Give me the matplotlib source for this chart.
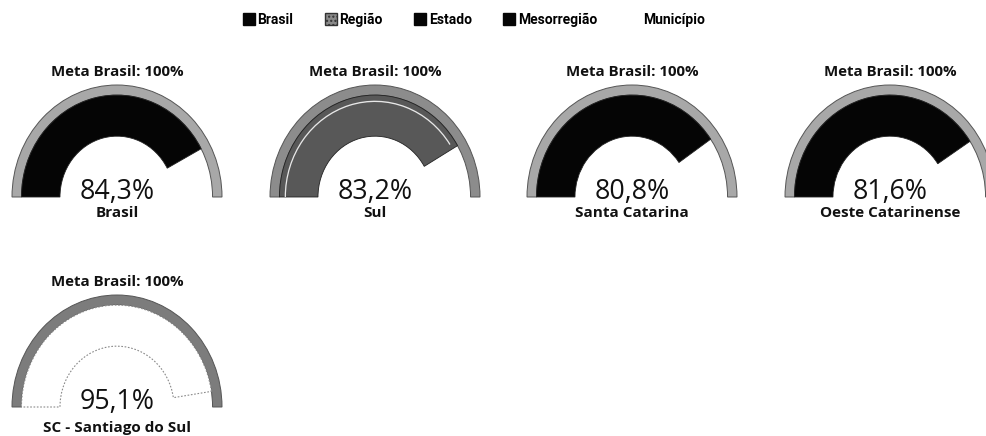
import matplotlib
matplotlib.use("Agg")
import matplotlib.pyplot as plt
from matplotlib.patches import Wedge, Patch

# ---- data ----
names = ["Brasil", "Sul", "Santa Catarina", "Oeste Catarinense", "SC - Santiago do Sul"]
values = [84.3, 83.2, 80.8, 81.6, 95.1]
kinds = ["Brasil", "Região", "Estado", "Mesorregião", "Município"]
meta_label = "Meta Brasil: 100%"
meta_value = 100.0
legend_labels = ["Brasil", "Região", "Estado", "Mesorregião", "Município"]

# ---- styles ----
fill_colors = {"Brasil": "#050505", "Região": "#585858", "Estado": "#050505",
               "Mesorregião": "#050505", "Município": "#ffffff"}
band_colors = {"Brasil": "#a8a8a8", "Região": "#8c8c8c", "Estado": "#a8a8a8",
               "Mesorregião": "#a8a8a8", "Município": "#7c7c7c"}

W, H = 986, 436
fig = plt.figure(figsize=(W / 100, H / 100), dpi=100)
fig.patch.set_facecolor("white")

centers = [(117, 197), (375, 197), (632, 197), (890, 197), (117, 407)]
RX, RY = 105, 112
R_IN = 0.543
R_BAND = 0.91

for i, (nm, val, kind) in enumerate(zip(names, values, kinds)):
    cx, cy = centers[i]
    ax = fig.add_axes([(cx - 1.25 * RX) / W, 1 - (cy + 0.35 * RY) / H,
                       2.5 * RX / W, 1.7 * RY / H])
    ax.set_xlim(-1.25, 1.25)
    ax.set_ylim(-0.35, 1.35)
    ax.axis("off")
    # background band (full meta)
    ax.add_patch(Wedge((0, 0), 1.0, 180 - 180 * meta_value / meta_value, 180,
                       width=1.0 - R_BAND, facecolor=band_colors[kind],
                       edgecolor="#555555", linewidth=0.7))
    theta = 180 - 180 * val / meta_value
    if kind == "Município":
        ax.add_patch(Wedge((0, 0), R_BAND, theta, 180, width=R_BAND - R_IN,
                           facecolor="white", edgecolor="#8a8a8a",
                           linewidth=0.8, linestyle=(0, (1.5, 1.5))))
    else:
        ax.add_patch(Wedge((0, 0), R_BAND, theta, 180, width=R_BAND - R_IN,
                           facecolor=fill_colors[kind], edgecolor="#222222",
                           linewidth=0.6))
        if kind == "Região":
            ax.add_patch(Wedge((0, 0), 0.86, theta + 3, 180, width=0.012,
                               facecolor="#e8e8e8", edgecolor="none"))
    row2 = cy > 300
    ax.text(0, 125 / RY, meta_label, ha="center", va="center",
            fontsize=10.8, fontweight="bold", family="Open Sans", color="#111111")
    ax.text(0, 5 / RY, f"{val:.1f}".replace(".", ",") + "%", ha="center",
            va="center", fontsize=19.3, family="Open Sans", color="#111111")
    ax.text(0, (-21 if row2 else -16) / RY, nm, ha="center", va="center",
            fontsize=11, fontweight="bold", family="Open Sans", color="#111111")

handles = []
for lab in legend_labels:
    if lab == "Município":
        handles.append(Patch(facecolor="white", edgecolor="none"))
    elif lab == "Região":
        handles.append(Patch(facecolor="#8a8a8a", edgecolor="#333333", hatch="...."))
    else:
        handles.append(Patch(facecolor="#050505", edgecolor="#050505"))
leg = fig.legend(handles, legend_labels, loc="center", bbox_to_anchor=(474 / W, 1 - 20 / H),
                 ncol=5, frameon=False, handlelength=0.87, handleheight=1.0,
                 handletextpad=0.2, columnspacing=2.25,
                 prop={"family": "Roboto", "weight": "bold", "size": 10})

fig.savefig("out.png", dpi=100, facecolor="white")
